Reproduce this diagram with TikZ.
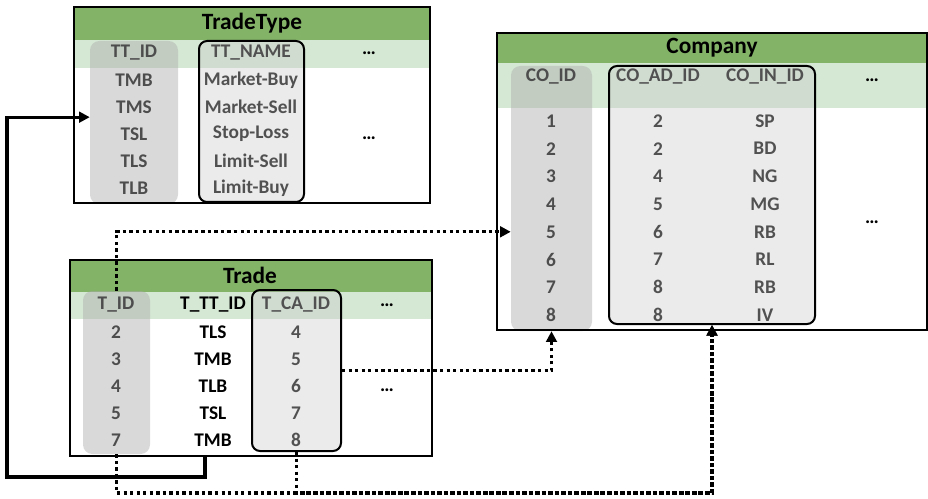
\documentclass[tikz,border=0pt]{standalone}
\usepackage{fontspec}
\setmainfont{Carlito}
\usetikzlibrary{calc,fit,arrows.meta}
\definecolor{vertfonce}{HTML}{82B366}
\definecolor{vertclair}{HTML}{D5E8D4}

\begin{document}
\begin{tikzpicture}[x=0.75pt,y=-0.75pt,
  cell/.style={font=\fontsize{14.5}{16}\selectfont\bfseries,inner sep=0pt},
  titre/.style={font=\fontsize{17.5}{20}\selectfont\bfseries,inner sep=0pt},
  colgris/.style={fill=black!33,fill opacity=0.45,rounded corners=7pt,inner sep=0pt},
  colcle/.style={fill=black!20,fill opacity=0.4,draw=black,line width=1.5pt,rounded corners=6pt,inner sep=0pt},
  table/.style={draw=black,line width=1.6pt},
  lien/.style={line width=2.3pt,-{Triangle[length=8pt,width=8pt]}},
  pointille/.style={line width=2.5pt,dash pattern=on 2.5pt off 2.4pt,-{Triangle[length=8pt,width=8pt]}}]
\useasboundingbox (0,0) rectangle (928,499);

  % TradeType
\fill[vertfonce] (74,7) rectangle (430,40);
\fill[vertclair] (74,40) rectangle (430,68);
\node[titre] (ttT) at (252,23) {TradeType};
\node[cell] (ttid) at (134,53) {TT\_ID};
\node[cell] (ttnom) at (251,53) {TT\_NAME};
\node[cell] (ttpts) at (369,53) {…};
\node[cell] (ttpts2) at (369,138) {…};
\foreach \id/\nom [count=\i] in {TMB/Market-Buy,TMS/Market-Sell,TSL/Stop-Loss,TLS/Limit-Sell,TLB/Limit-Buy}
{
  \node[cell] (ttid\i) at (134,53+27*\i) {\id};
  \node[cell] (ttnom\i) at (251,53+27*\i) {\nom};
}
\coordinate (a1) at (90,41);
\coordinate (a2) at (178,204);
\coordinate (a3) at (199,41);
\coordinate (a4) at (304,202);
\node[colgris,fit=(a1)(a2)] (ttcol) {};
\node[colcle,fit=(a3)(a4)] (ttkey) {};
\draw[table] (74,7) rectangle (430,203);

  % Company
\fill[vertfonce] (497,33) rectangle (927,63);
\fill[vertclair] (497,63) rectangle (927,108);
\node[titre] (coT) at (712,48) {Company};
\node[cell] (coid) at (551,77) {CO\_ID};
\node[cell] (coad) at (658,77) {CO\_AD\_ID};
\node[cell] (coin) at (765,77) {CO\_IN\_ID};
\node[cell] (copts) at (872,80) {…};
\node[cell] (copts2) at (872,222) {…};
\foreach \id/\ad/\ind [count=\i] in {1/2/SP,2/2/BD,3/4/NG,4/5/MG,5/6/RB,6/7/RL,7/8/RB,8/8/IV}
{
  \node[cell] (co\i) at (551,93.3+27.7*\i) {\id};
  \node[cell] (coad\i) at (658,93.3+27.7*\i) {\ad};
  \node[cell] (coin\i) at (765,93.3+27.7*\i) {\ind};
}
\coordinate (b1) at (511,66);
\coordinate (b2) at (592,331);
\coordinate (b3) at (609,66);
\coordinate (b4) at (815,324);
\node[colgris,fit=(b1)(b2)] (cocol) {};
\node[colcle,fit=(b3)(b4)] (cokey) {};
\draw[table] (497,33) rectangle (927,330);

  % Trade
\fill[vertfonce] (70,260) rectangle (432,292);
\fill[vertclair] (70,292) rectangle (432,319);
\node[titre] (trT) at (250,275) {Trade};
\node[cell] (trid) at (116,305) {T\_ID};
\node[cell] (trtt) at (213,305) {T\_TT\_ID};
\node[cell] (trca) at (296,305) {T\_CA\_ID};
\node[cell] (trpts) at (387,305) {…};
\node[cell] (trpts2) at (387,390) {…};
\foreach \id/\tt/\ca [count=\i] in {2/TLS/4,3/TMB/5,4/TLB/6,5/TSL/7,7/TMB/8}
{
  \node[cell] (tr\i) at (116,305+27*\i) {\id};
  \node[cell] (trtt\i) at (213,305+27*\i) {\tt};
  \node[cell] (trca\i) at (296,305+27*\i) {\ca};
}
\coordinate (c1) at (83,291);
\coordinate (c2) at (150,454);
\coordinate (c3) at (252,290);
\coordinate (c4) at (341,451);
\node[colgris,fit=(c1)(c2)] (trcol) {};
\node[colcle,fit=(c3)(c4)] (trkey) {};
\draw[table] (70,260) rectangle (432,456);

  % liens
\coordinate (coin1) at (7,477);
\coordinate (bas) at (0,493);
\draw[lien] ([xshift=-6pt]trtt5.south |- 0,456) |- (coin1) |- ([yshift=4pt]ttcol.west);
\draw[pointille] (trcol.north) |- (cocol.west |- co5);
\draw[pointille] (trkey.east) -| (cocol.south);
\draw[pointille] (trcol.south) -- (trcol.south |- bas) -| (cokey.south);
\draw[pointille] (trkey.south) -- (trkey.south |- bas) -| (cokey.south);
\end{tikzpicture}
\end{document}
